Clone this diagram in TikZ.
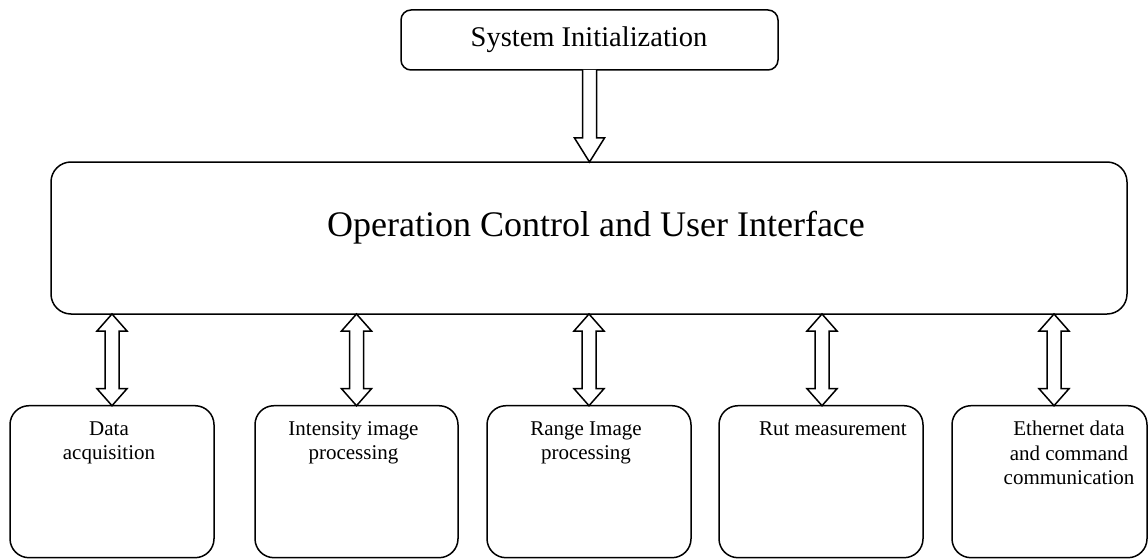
\documentclass[tikz,border=0pt]{standalone}
\usepackage{fontspec}
\setmainfont{Liberation Serif}
\usetikzlibrary{calc}

\tikzset{
  box/.style={draw, line width=1.5pt, rounded corners=#1, inner sep=0pt, outer sep=0pt},
  box/.default=19pt,
  blk/.style={draw, line width=1.5pt, fill=white, line join=miter},
  small/.style={align=center, inner sep=0pt, anchor=north,
                font=\fontsize{21}{24.5}\selectfont},
}

% hollow block arrow pointing down from #1 to #2
\newcommand\downblock[2]{%
  \draw[blk] let \p1=(#1), \p2=(#2) in
    (\x1-7pt,\y1) -- (\x1-7pt,\y2+24pt) -- (\x1-15pt,\y2+24pt) -- (\x1,\y2)
    -- (\x1+15pt,\y2+24pt) -- (\x1+7pt,\y2+24pt) -- (\x1+7pt,\y1);}

% hollow two-headed block arrow between the main panel and box #2
\newcommand\twoway[2][0]{%
  \draw[blk] let \p1=($(#2.north)+(#1,0)$), \p2=(main.south) in
    (\x1,\y2) -- (\x1+15pt,\y2-17pt) -- (\x1+7pt,\y2-17pt) -- (\x1+7pt,\y1+17pt)
    -- (\x1+15pt,\y1+17pt) -- (\x1,\y1) -- (\x1-15pt,\y1+17pt) -- (\x1-7pt,\y1+17pt)
    -- (\x1-7pt,\y2-17pt) -- (\x1-15pt,\y2-17pt) -- cycle;}

\begin{document}
\begin{tikzpicture}[x=1pt, y=-1pt]
\useasboundingbox (0,0) rectangle (1148,559);

% top block
\node[box=10pt, minimum width=377pt, minimum height=60pt] (init) at (589.5,40) {};
\node[anchor=base, inner sep=0pt, font=\fontsize{28.5}{32}\selectfont] (tinit) at (589,46.7) {System Initialization};

% central panel
\node[box=20pt, minimum width=1076pt, minimum height=152pt] (main) at (589,238) {};
\node[anchor=base, inner sep=0pt, font=\fontsize{36}{40}\selectfont] (tmain) at (596,236) {Operation Control and User Interface};

% module boxes
\node[box, minimum width=204pt, minimum height=152pt] (b1) at (112,481.7) {};
\node[box, minimum width=203pt, minimum height=152pt] (b2) at (356.5,481.7) {};
\node[box, minimum width=204pt, minimum height=152pt] (b3) at (589,481.7) {};
\node[box, minimum width=204pt, minimum height=152pt] (b4) at (821,481.7) {};
\node[box, minimum width=195pt, minimum height=152pt] (b5) at (1049.5,481.7) {};

\node[small] (t1) at (109,421.2) {Data\\acquisition};
\node[small] (t2) at (353.5,421.2) {Intensity image\\processing};
\node[small] (t3) at (586,421.2) {Range Image\\processing};
\node[small] (t4) at (833,421.2) {Rut measurement};
\node[small] (t5) at (1069,421.2) {Ethernet data\\and command\\communication};

% connectors
\downblock{init.south}{main.north}
\twoway{b1}
\twoway{b2}
\twoway{b3}
\twoway[1]{b4}
\twoway[4.5]{b5}
\end{tikzpicture}
\end{document}
